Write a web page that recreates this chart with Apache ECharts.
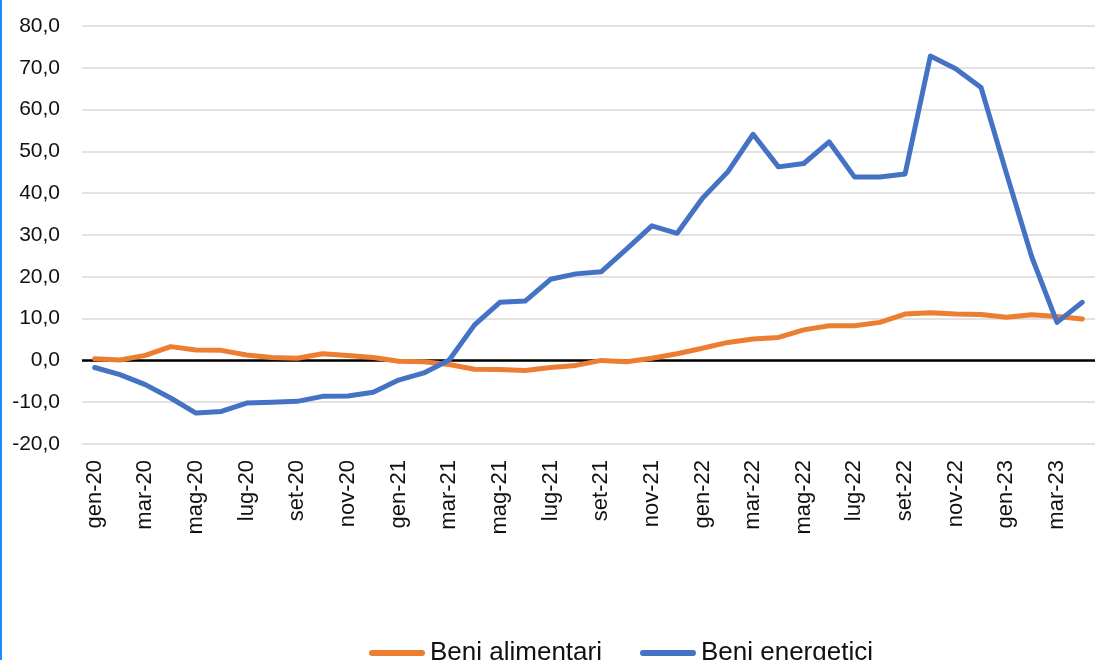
<!DOCTYPE html>
<html>
<head>
<meta charset="utf-8">
<script src="https://cdn.jsdelivr.net/npm/echarts@6/dist/echarts.min.js"></script>
<style>
  html, body { margin: 0; padding: 0; background: #fff; }
  #chart { width: 1098px; height: 660px; }
</style>
</head>
<body>
<div id="chart"></div>
<script>
// mesi da gen-20 ad apr-23
const months = [
  'gen-20', 'feb-20', 'mar-20', 'apr-20', 'mag-20', 'giu-20', 'lug-20', 'ago-20', 'set-20', 'ott-20', 'nov-20', 'dic-20',
  'gen-21', 'feb-21', 'mar-21', 'apr-21', 'mag-21', 'giu-21', 'lug-21', 'ago-21', 'set-21', 'ott-21', 'nov-21', 'dic-21',
  'gen-22', 'feb-22', 'mar-22', 'apr-22', 'mag-22', 'giu-22', 'lug-22', 'ago-22', 'set-22', 'ott-22', 'nov-22', 'dic-22',
  'gen-23', 'feb-23', 'mar-23', 'apr-23'
]
// Beni alimentari
const alimentari = [
  0.4, 0.1, 1.2, 3.3, 2.5, 2.4, 1.3, 0.7, 0.5, 1.6, 1.2, 0.7,
  -0.2, -0.3, -1.0, -2.1, -2.2, -2.4, -1.7, -1.2, 0.0, -0.3, 0.5, 1.6,
  2.9, 4.3, 5.1, 5.5, 7.3, 8.3, 8.3, 9.1, 11.1, 11.4, 11.1, 11.0,
  10.3, 10.9, 10.5, 9.9
]
// Beni energetici
const energetici = [
  -1.7, -3.4, -5.8, -9.0, -12.6, -12.2, -10.2, -10.0, -9.8, -8.6, -8.5, -7.6,
  -4.7, -3.0, 0.1, 8.5, 13.9, 14.2, 19.4, 20.7, 21.2, 26.6, 32.2, 30.4,
  38.8, 45.1, 54.1, 46.3, 47.1, 52.3, 43.9, 43.9, 44.6, 72.8, 69.8, 65.3,
  44.8, 24.8, 9.1, 13.9
]
const seriesNames = ['Beni alimentari', 'Beni energetici']

const txtFont = '"Liberation Sans", Arial, sans-serif'
const legendIcon = 'path://M3,0 H53 A3,3 0 0 1 53,6 H3 A3,3 0 0 1 3,0 Z'

const option = {
  animation: false,
  backgroundColor: '#fff',
  graphic: [
    {
      type: 'rect',
      left: 0,
      top: 0,
      shape: { width: 2, height: 660 },
      style: { fill: '#1a8cff' },
      silent: true
    }
  ],
  grid: {
    left: 82,
    right: 3,
    top: 26,
    bottom: 216
  },
  legend: {
    left: 364,
    top: 635,
    itemWidth: 56,
    itemHeight: 6,
    itemGap: 38,
    textStyle: {
      fontFamily: txtFont,
      fontSize: 26,
      color: '#111'
    },
    data: [
      { name: seriesNames[0], icon: legendIcon },
      { name: seriesNames[1], icon: legendIcon }
    ]
  },
  xAxis: {
    type: 'category',
    data: months,
    boundaryGap: true,
    axisLine: { show: false },
    axisTick: { show: false },
    splitLine: { show: false },
    axisLabel: {
      interval: 1,
      rotate: 90,
      margin: 16,
      fontFamily: txtFont,
      fontSize: 22,
      color: '#111'
    }
  },
  yAxis: {
    type: 'value',
    min: -20,
    max: 80,
    interval: 10,
    axisLine: { show: false },
    axisTick: { show: false },
    splitLine: {
      lineStyle: { color: '#d9d9d9', width: 1.5 }
    },
    axisLabel: {
      margin: 22,
      fontFamily: txtFont,
      fontSize: 21,
      color: '#111',
      formatter: function (v) {
        return v.toFixed(1).replace('.', ',')
      }
    }
  },
  series: [
    {
      name: seriesNames[0],
      type: 'line',
      data: alimentari,
      showSymbol: false,
      symbol: 'none',
      color: '#ed7d31',
      lineStyle: { color: '#ed7d31', width: 5, cap: 'round', join: 'round' },
      z: 3,
      markLine: {
        silent: true,
        symbol: 'none',
        label: { show: false },
        lineStyle: { color: '#000', width: 2.5, type: 'solid' },
        data: [{ yAxis: 0 }],
        z: 1
      }
    },
    {
      name: seriesNames[1],
      type: 'line',
      data: energetici,
      showSymbol: false,
      symbol: 'none',
      color: '#4472c4',
      lineStyle: { color: '#4472c4', width: 5, cap: 'round', join: 'round' },
      z: 4
    }
  ]
}

const myChart = echarts.init(document.getElementById('chart'))
myChart.setOption(option)
</script>
</body>
</html>
